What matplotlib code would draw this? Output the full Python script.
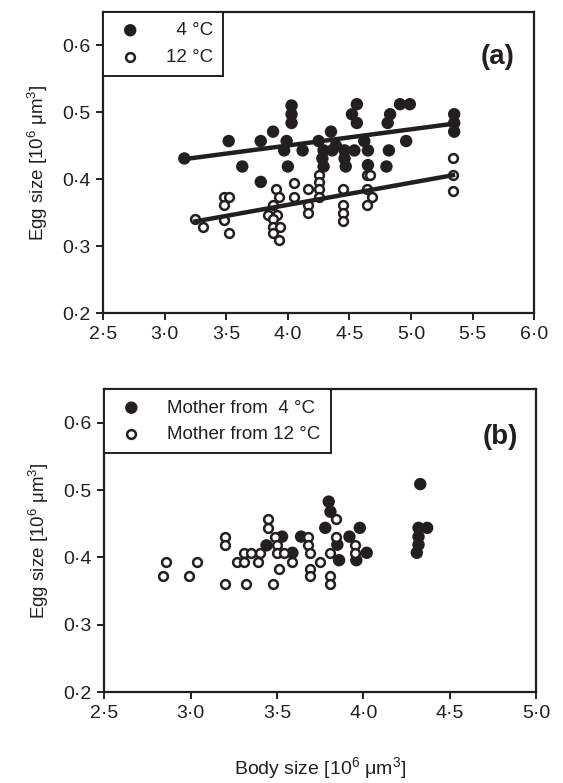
import matplotlib
matplotlib.use("Agg")
import matplotlib.pyplot as plt
from matplotlib.ticker import FuncFormatter

plt.rcParams['font.family'] = ['Liberation Sans', 'DejaVu Sans']
plt.rcParams['mathtext.default'] = 'regular'

# panel (a): egg size vs body size at two temperatures
temp4_body = [3.16, 3.52, 3.63, 3.78, 3.88, 3.78, 4.03, 4.03, 4.03, 3.99, 3.97, 4.00,
              4.12, 4.25, 4.28, 4.35, 4.36, 4.29, 4.29, 4.56, 4.52, 4.56, 4.39, 4.46,
              4.54, 4.62, 4.65, 4.46, 4.47, 4.65, 4.80, 4.82, 4.83, 4.81, 4.91, 4.99,
              4.96, 5.35, 5.35, 5.35]
temp4_egg = [0.431, 0.457, 0.419, 0.457, 0.471, 0.396, 0.510, 0.497, 0.484, 0.457, 0.443, 0.419,
             0.443, 0.457, 0.431, 0.471, 0.443, 0.419, 0.443, 0.512, 0.497, 0.484, 0.450, 0.443,
             0.443, 0.457, 0.443, 0.431, 0.419, 0.421, 0.419, 0.443, 0.497, 0.484, 0.512, 0.512,
             0.457, 0.497, 0.484, 0.471]

temp12_body = [3.25, 3.31, 3.48, 3.52, 3.48, 3.48, 3.52,
               3.90, 3.93, 3.88, 3.84, 3.91, 3.88, 3.88, 3.94, 3.88, 3.93,
               4.05, 4.05, 4.16, 4.16, 4.16,
               4.25, 4.25, 4.25, 4.25,
               4.45, 4.45, 4.45, 4.45,
               4.64, 4.67, 4.64, 4.68, 4.64,
               5.34, 5.34, 5.34]
temp12_egg = [0.340, 0.328, 0.374, 0.374, 0.361, 0.339, 0.319,
              0.385, 0.373, 0.361, 0.347, 0.347, 0.340, 0.329, 0.329, 0.319, 0.309,
              0.394, 0.373, 0.385, 0.361, 0.349,
              0.407, 0.396, 0.385, 0.373,
              0.385, 0.361, 0.350, 0.338,
              0.407, 0.407, 0.385, 0.373, 0.361,
              0.431, 0.407, 0.382]

# fitted lines (end points)
fit4_body = [3.16, 5.35]
fit4_egg = [0.430, 0.483]
fit12_body = [3.25, 5.34]
fit12_egg = [0.337, 0.406]

# panel (b): offspring, by mother's temperature
mother4_body = [3.44, 3.53, 3.59, 3.64, 3.80, 3.81, 3.78, 3.85, 3.86, 3.92, 3.98, 3.96,
                4.02, 4.33, 4.32, 4.32, 4.32, 4.31, 4.37]
mother4_egg = [0.418, 0.431, 0.407, 0.431, 0.483, 0.468, 0.444, 0.419, 0.396, 0.431, 0.444, 0.396,
               0.407, 0.509, 0.444, 0.431, 0.419, 0.407, 0.444]

mother12_body = [2.84, 2.86, 2.99, 3.04, 3.20, 3.20, 3.20, 3.27, 3.31, 3.31, 3.32, 3.35,
                 3.39, 3.40, 3.45, 3.45, 3.48, 3.49, 3.50, 3.50, 3.51, 3.54, 3.59, 3.68,
                 3.68, 3.69, 3.69, 3.69, 3.75, 3.81, 3.81, 3.81, 3.84, 3.84, 3.95, 3.95]
mother12_egg = [0.372, 0.394, 0.372, 0.394, 0.430, 0.418, 0.361, 0.394, 0.407, 0.394, 0.361, 0.407,
                0.394, 0.407, 0.457, 0.444, 0.361, 0.431, 0.418, 0.407, 0.383, 0.407, 0.394, 0.431,
                0.418, 0.407, 0.383, 0.372, 0.394, 0.407, 0.372, 0.361, 0.457, 0.431, 0.418, 0.407]

y_ticks = [0.2, 0.3, 0.4, 0.5, 0.6]
xa_ticks = [2.5, 3.0, 3.5, 4.0, 4.5, 5.0, 5.5, 6.0]
xb_ticks = [2.5, 3.0, 3.5, 4.0, 4.5, 5.0]

ylabel = 'Egg size [10$^6$ μm$^3$]'
xlabel = 'Body size [10$^6$ μm$^3$]'

dot = FuncFormatter(lambda v, pos: f"{v:.1f}".replace('.', '\u00b7'))
dark = '#231f20'


def style_axes(ax, xticks, xlim):
    ax.set_xlim(xlim)
    ax.set_ylim(0.2, 0.65)
    ax.set_xticks(xticks)
    ax.set_yticks(y_ticks)
    ax.xaxis.set_major_formatter(dot)
    ax.yaxis.set_major_formatter(dot)
    for sp in ax.spines.values():
        sp.set_linewidth(1.6)
        sp.set_color(dark)
    ax.tick_params(direction='out', length=5, width=1.4, labelsize=14,
                   colors=dark, pad=4)
    ax.set_ylabel(ylabel, fontsize=13.5, labelpad=9, color=dark)


def add_legend(ax, labels):
    leg = ax.legend(labels, loc='upper left', borderaxespad=0, fancybox=False,
                    edgecolor=dark, framealpha=1, fontsize=13.5,
                    handletextpad=1.0, labelspacing=0.5, borderpad=0.55,
                    handlelength=1.8)
    leg.get_frame().set_linewidth(1.4)
    for t in leg.get_texts():
        t.set_color(dark)


fig = plt.figure(figsize=(5.63, 7.83), dpi=100)
ax1 = fig.add_axes([0.183, 0.600, 0.766, 0.385])
ax2 = fig.add_axes([0.185, 0.116, 0.767, 0.387])

ax1.scatter(temp4_body, temp4_egg, s=80, facecolor=dark, edgecolor='none', zorder=2)
ax1.scatter(temp12_body, temp12_egg, s=40, facecolor='white', edgecolor=dark,
            linewidth=1.8, zorder=3)
ax1.plot(fit4_body, fit4_egg, color=dark, lw=3.2, zorder=4)
ax1.plot(fit12_body, fit12_egg, color=dark, lw=3.2, zorder=4)
style_axes(ax1, xa_ticks, (2.5, 6.0))
add_legend(ax1, ['  4 °C', '12 °C'])
ax1.text(0.915, 0.85, '(a)', transform=ax1.transAxes, fontsize=20,
         fontweight='bold', ha='center', va='center', color=dark)

ax2.scatter(mother4_body, mother4_egg, s=80, facecolor=dark, edgecolor='none', zorder=2)
ax2.scatter(mother12_body, mother12_egg, s=40, facecolor='white', edgecolor=dark,
            linewidth=1.8, zorder=3)
style_axes(ax2, xb_ticks, (2.5, 5.0))
add_legend(ax2, ['Mother from  4 °C', 'Mother from 12 °C'])
ax2.text(0.917, 0.842, '(b)', transform=ax2.transAxes, fontsize=20,
         fontweight='bold', ha='center', va='center', color=dark)

fig.text(0.568, 0.003, xlabel, ha='center', va='bottom', fontsize=14, color=dark)

fig.savefig('out.png', dpi=100)
